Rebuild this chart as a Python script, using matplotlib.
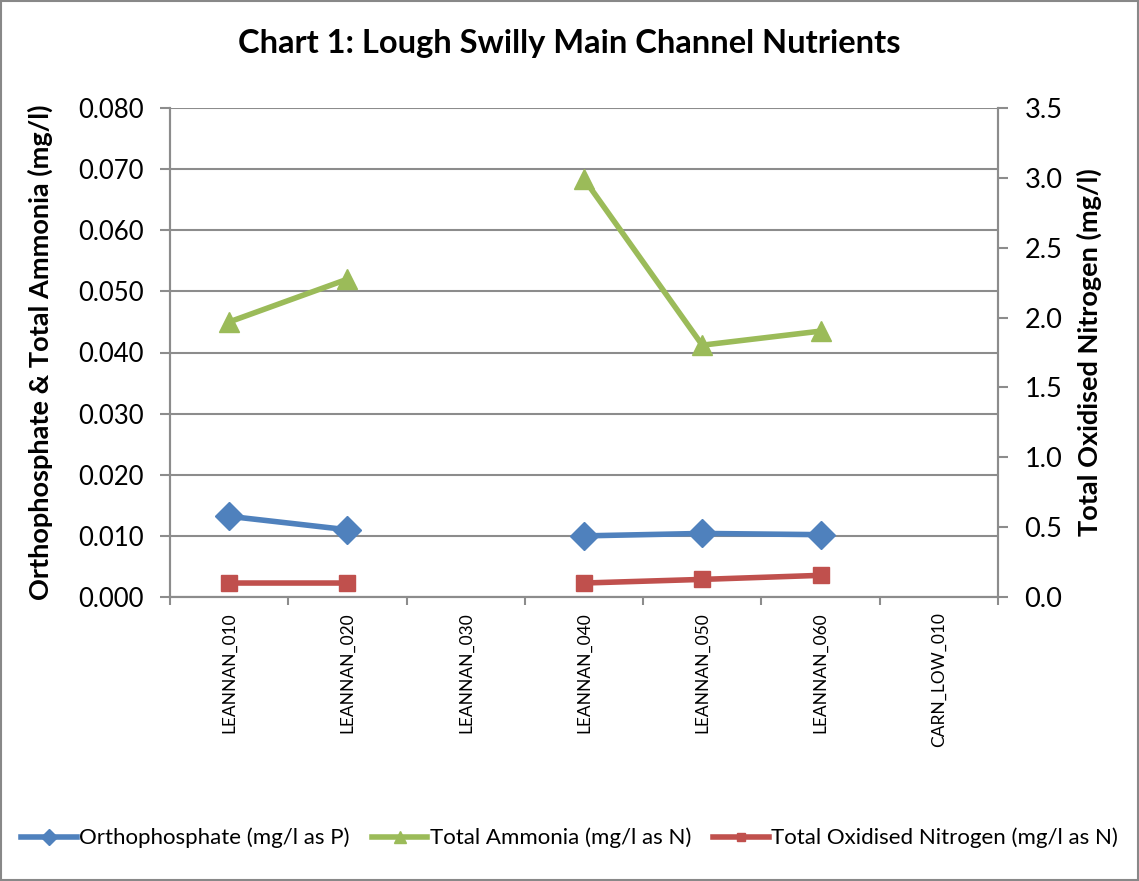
import numpy as np
import matplotlib.pyplot as plt
from matplotlib.patches import Rectangle

plt.rcParams['font.family'] = ['Lato', 'DejaVu Sans']

sites = ['LEANNAN_010', 'LEANNAN_020', 'LEANNAN_030', 'LEANNAN_040',
         'LEANNAN_050', 'LEANNAN_060', 'CARN_LOW_010']
ortho = [0.0132, 0.0110, np.nan, 0.0100, 0.0104, 0.0102, np.nan]
ammonia = [0.0450, 0.0520, np.nan, 0.0684, 0.0412, 0.0435, np.nan]
ton = [0.100, 0.100, np.nan, 0.100, 0.126, 0.155, np.nan]

blue = '#4F81BD'
green = '#9BBB59'
red = '#C0504D'

fig = plt.figure(figsize=(11.39, 8.81), dpi=100)
fig.patches.append(Rectangle((0.001, 0.001), 0.998, 0.998, transform=fig.transFigure,
                             fill=False, edgecolor='#888888', lw=1.5))
ax = fig.add_axes([170/1139, 1-597/881, 828/1139, 489/881])
ax2 = ax.twinx()

x = np.arange(len(sites))
l1, = ax.plot(x, ortho, color=blue, lw=4, marker='D', ms=14, label='Orthophosphate (mg/l as P)')
l2, = ax.plot(x, ammonia, color=green, lw=4, marker='^', ms=15, label='Total Ammonia (mg/l as N)')
l3, = ax2.plot(x, ton, color=red, lw=4, marker='s', ms=11, label='Total Oxidised Nitrogen (mg/l as N)')

ax.set_xlim(-0.5, len(sites) - 0.5)
ax.set_ylim(0, 0.08)
ax2.set_ylim(0, 3.5)
ax.set_yticks(np.arange(0, 0.081, 0.01))
ax.set_yticklabels(['%.3f' % v for v in np.arange(0, 0.081, 0.01)])
ax2.set_yticks(np.arange(0, 3.51, 0.5))
ax2.set_yticklabels(['%.1f' % v for v in np.arange(0, 3.51, 0.5)])
ax.grid(axis='y', color='#8c8c8c', lw=1.5)
ax.set_axisbelow(True)

ax.set_xticks(np.arange(-0.5, len(sites)), minor=False)
ax.set_xticklabels([])
ax.set_xticks(x, minor=True)
ax.set_xticklabels(sites, minor=True, rotation=90, fontsize=12.5)
ax.tick_params(axis='x', which='minor', length=0, pad=11)
ax.tick_params(axis='x', which='major', length=6, color='#8c8c8c', width=1.5)
ax.tick_params(axis='y', labelsize=18.5, length=7, color='#8c8c8c', width=1.5, pad=12)
ax2.tick_params(axis='y', labelsize=19.5, length=7, color='#8c8c8c', width=1.5, pad=12)

for a in (ax, ax2):
    for s in a.spines.values():
        s.set_color('#8c8c8c')
        s.set_linewidth(1.5)
    a.spines['top'].set_visible(False)

ax.set_ylabel('Orthophosphate & Total Ammonia (mg/l)', fontsize=19.5, fontweight='bold', labelpad=18)
ax2.set_ylabel('Total Oxidised Nitrogen (mg/l)', fontsize=19.5, fontweight='bold', labelpad=10)
fig.suptitle('Chart 1: Lough Swilly Main Channel Nutrients', fontsize=23.5, fontweight='bold', y=0.967)

fig.legend([l1, l2, l3], [l1.get_label(), l2.get_label(), l3.get_label()],
           loc='center', bbox_to_anchor=(0.5, 1-838/881), ncol=3, frameon=False,
           fontsize=16, handlelength=2.5, markerscale=0.55, columnspacing=1.0, handletextpad=0.1)

fig.savefig('out.png', dpi=100)
